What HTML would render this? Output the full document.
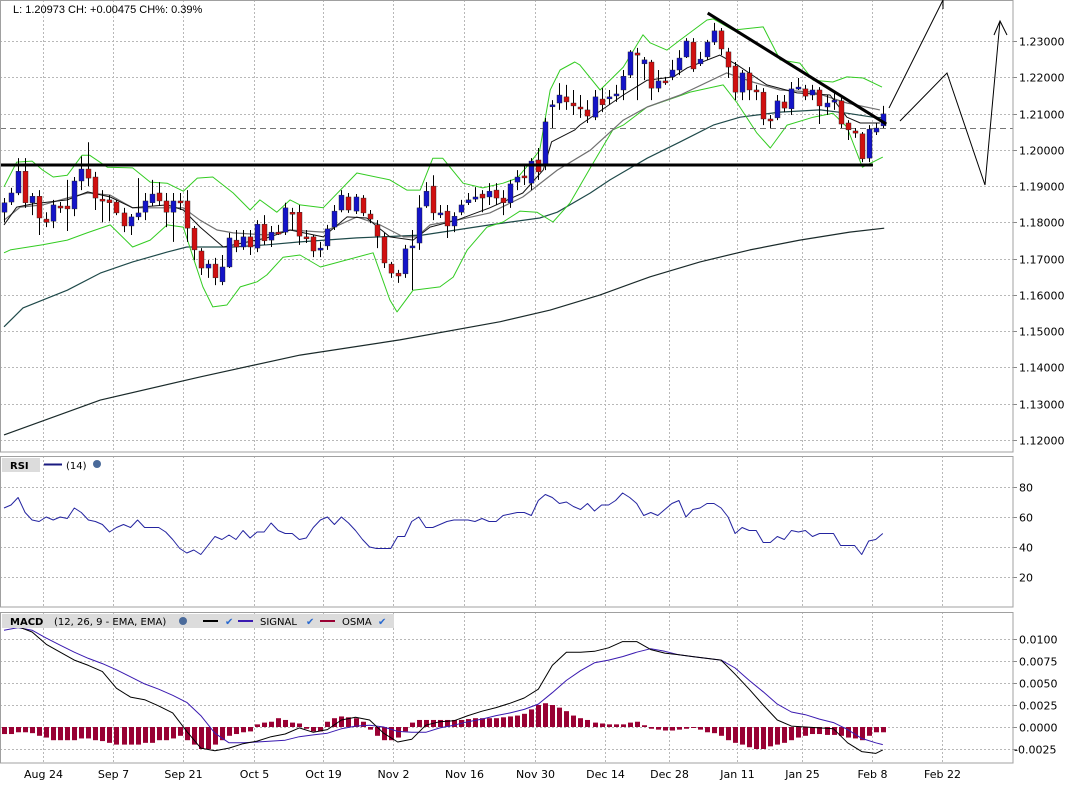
<!DOCTYPE html>
<html><head><meta charset="utf-8"><title>EUR/USD daily chart</title>
<style>
html,body{margin:0;padding:0;background:#fff;}
svg{display:block;font-family:"DejaVu Sans","Liberation Sans",sans-serif;}
</style></head>
<body>
<svg id="chart" width="1073" height="788" viewBox="0 0 1073 788" xmlns="http://www.w3.org/2000/svg">
<rect x="0" y="0" width="1073" height="788" fill="#fff"/>
<g id="grid"></g>
<g id="main"></g>
<g id="rsi"></g>
<g id="macd"></g>
<g id="axes"></g>
<rect x="0.5" y="0.5" width="1012.5" height="451.5" fill="none" stroke="#a0a0a0"/>
<rect x="0.5" y="456.5" width="1012.5" height="150.5" fill="none" stroke="#a0a0a0"/>
<rect x="0.5" y="612.5" width="1012.5" height="150.5" fill="none" stroke="#a0a0a0"/>
<text x="13" y="13" font-family="Liberation Sans, sans-serif" font-size="11" fill="#000">L: 1.20973 CH: +0.00475 CH%: 0.39%</text>
<g>
<rect x="2" y="458" width="38" height="14" fill="#dcdcdc"/>
<text x="10" y="469" font-size="10" font-weight="bold">RSI</text>
<line x1="44" y1="464.5" x2="62" y2="464.5" stroke="#1a1a80" stroke-width="2"/>
<text x="66" y="469" font-size="10">(14)</text>
<circle cx="97" cy="464" r="4" fill="#4a6a9a"/>
</g>
<g>
<rect x="2" y="614" width="392" height="14" fill="#dcdcdc"/>
<text x="10" y="625" font-size="10" font-weight="bold">MACD</text>
<text x="54" y="625" font-size="10">(12, 26, 9 - EMA, EMA)</text>
<circle cx="183" cy="621" r="4" fill="#4a6a9a"/>
<line x1="203" y1="621" x2="218" y2="621" stroke="#000" stroke-width="2"/>
<text x="225" y="625" font-size="10" fill="#2a6ad0">✔</text>
<line x1="238" y1="621" x2="253" y2="621" stroke="#3a1ab0" stroke-width="2"/>
<text x="260" y="625" font-size="10">SIGNAL</text>
<text x="306" y="625" font-size="10" fill="#2a6ad0">✔</text>
<line x1="320" y1="621" x2="335" y2="621" stroke="#990033" stroke-width="2"/>
<text x="342" y="625" font-size="10">OSMA</text>
<text x="378" y="625" font-size="10" fill="#2a6ad0">✔</text>
</g>
<g stroke="#000" fill="none" stroke-width="1">
<line x1="889" y1="108" x2="943" y2="0"/>
<line x1="943" y1="0" x2="943" y2="9"/>
<polyline points="900,121 947,73 985,185 1000,21"/>
<polyline points="994,35 1000,21 1007,35"/>
</g>
<script>
// ---------- DATA ----------
const open = [1.1828,1.1856,1.1881,1.1941,1.1854,1.1872,1.1809,1.1803,1.1845,1.1845,1.1837,1.1914,1.1947,1.1925,1.1864,1.1862,1.1856,1.1826,1.1790,1.1815,1.1828,1.1854,1.1881,1.1859,1.1828,1.1859,1.1859,1.1784,1.1721,1.1674,1.1685,1.1636,1.1677,1.1751,1.1732,1.1760,1.1729,1.1795,1.1751,1.1773,1.1773,1.1828,1.1828,1.1760,1.1760,1.1724,1.1735,1.1787,1.1834,1.1870,1.1831,1.1867,1.1823,1.1793,1.1760,1.1685,1.1660,1.1658,1.1732,1.1743,1.1845,1.1900,1.1823,1.1831,1.1790,1.1828,1.1854,1.1864,1.1878,1.1870,1.1889,1.1867,1.1854,1.1911,1.1928,1.1908,1.1972,1.1955,1.2121,1.2129,1.2146,1.2129,1.2118,1.2110,1.2090,1.2140,1.2143,1.2151,1.2165,1.2206,1.2267,1.2237,1.2242,1.2170,1.2190,1.2201,1.2220,1.2256,1.2297,1.2237,1.2256,1.2297,1.2328,1.2270,1.2231,1.2159,1.2212,1.2165,1.2159,1.2085,1.2088,1.2132,1.2113,1.2170,1.2168,1.2151,1.2165,1.2118,1.2135,1.2135,1.2074,1.2052,1.2044,1.1977,1.2049,1.2066];
const high = [1.1867,1.1895,1.1977,1.1977,1.1881,1.1889,1.1828,1.1862,1.1856,1.1917,1.1925,1.1982,1.2021,1.1939,1.1889,1.1875,1.1862,1.1840,1.1823,1.1922,1.1881,1.1917,1.1911,1.1881,1.1881,1.1881,1.1889,1.1790,1.1729,1.1696,1.1702,1.1710,1.1771,1.1779,1.1779,1.1779,1.1806,1.1820,1.1790,1.1793,1.1854,1.1840,1.1848,1.1779,1.1765,1.1746,1.1793,1.1848,1.1889,1.1881,1.1878,1.1875,1.1834,1.1806,1.1771,1.1691,1.1669,1.1738,1.1779,1.1875,1.1911,1.1930,1.1848,1.1848,1.1828,1.1862,1.1881,1.1897,1.1889,1.1908,1.1908,1.1889,1.1917,1.1944,1.1958,1.1977,1.2005,1.2088,1.2137,1.2184,1.2179,1.2165,1.2151,1.2137,1.2165,1.2170,1.2165,1.2179,1.2220,1.2275,1.2281,1.2256,1.2248,1.2220,1.2201,1.2248,1.2275,1.2308,1.2308,1.2270,1.2303,1.2350,1.2336,1.2281,1.2242,1.2220,1.2228,1.2179,1.2170,1.2096,1.2151,1.2151,1.2187,1.2198,1.2179,1.2179,1.2173,1.2151,1.2159,1.2143,1.2082,1.2060,1.2049,1.2068,1.2074,1.2121];
const low = [1.1800,1.1848,1.1875,1.1840,1.1820,1.1765,1.1787,1.1784,1.1826,1.1776,1.1817,1.1889,1.1900,1.1834,1.1800,1.1803,1.1820,1.1773,1.1765,1.1806,1.1806,1.1845,1.1845,1.1787,1.1746,1.1834,1.1746,1.1696,1.1655,1.1647,1.1627,1.1627,1.1674,1.1718,1.1724,1.1710,1.1718,1.1738,1.1732,1.1765,1.1765,1.1779,1.1738,1.1743,1.1704,1.1704,1.1724,1.1779,1.1828,1.1826,1.1823,1.1817,1.1798,1.1729,1.1674,1.1647,1.1633,1.1647,1.1613,1.1724,1.1840,1.1806,1.1812,1.1757,1.1773,1.1820,1.1848,1.1856,1.1828,1.1848,1.1848,1.1820,1.1840,1.1889,1.1903,1.1889,1.1917,1.1944,1.2060,1.2110,1.2110,1.2096,1.2088,1.2074,1.2082,1.2104,1.2124,1.2132,1.2137,1.2198,1.2137,1.2192,1.2137,1.2159,1.2179,1.2192,1.2206,1.2253,1.2215,1.2231,1.2248,1.2289,1.2261,1.2198,1.2137,1.2137,1.2137,1.2137,1.2068,1.2060,1.2082,1.2104,1.2096,1.2165,1.2137,1.2137,1.2071,1.2096,1.2110,1.2060,1.2027,1.2033,1.1966,1.1966,1.2041,1.2060];
const close = [1.1854,1.1881,1.1941,1.1854,1.1872,1.1812,1.1800,1.1848,1.1843,1.1837,1.1914,1.1947,1.1922,1.1867,1.1862,1.1854,1.1826,1.1790,1.1815,1.1826,1.1859,1.1878,1.1859,1.1828,1.1859,1.1854,1.1784,1.1724,1.1674,1.1685,1.1647,1.1677,1.1757,1.1732,1.1760,1.1732,1.1795,1.1749,1.1773,1.1771,1.1840,1.1826,1.1762,1.1757,1.1721,1.1729,1.1782,1.1831,1.1875,1.1834,1.1870,1.1826,1.1809,1.1762,1.1688,1.1660,1.1652,1.1727,1.1735,1.1840,1.1886,1.1826,1.1826,1.1790,1.1817,1.1848,1.1862,1.1870,1.1867,1.1886,1.1867,1.1854,1.1906,1.1925,1.1925,1.1969,1.1939,1.2077,1.2124,1.2151,1.2132,1.2121,1.2113,1.2093,1.2146,1.2124,1.2146,1.2154,1.2203,1.2270,1.2261,1.2248,1.2170,1.2190,1.2187,1.2220,1.2253,1.2300,1.2223,1.2250,1.2297,1.2328,1.2278,1.2228,1.2159,1.2212,1.2165,1.2162,1.2085,1.2082,1.2135,1.2115,1.2168,1.2173,1.2148,1.2165,1.2121,1.2129,1.2137,1.2071,1.2055,1.2046,1.1975,1.2057,1.2060,1.2099];

const upperDay = [0,1.8,4.0,5.5,7.0,9.0,11.1,12.2,14.7,18.3,20.8,23.2,25.5,27.5,29.7,32.6,35.0,36.4,38.8,40.7,42.1,45.4,50.2,54.9,57.3,59.2,61.0,62.4,65.3,68.1,71.0,73.0,74.8,76.2,77.7,79.1,81.2,81.9,84.8,88.1,90.9,91.9,94.3,96.2,100.0,100.9,103.7,108.0,110.4,113.2,115.1,117.9,119.9,122.2,124.9];
const upperBand = [1.1898,1.1966,1.1969,1.1944,1.1925,1.1930,1.1985,1.1985,1.1952,1.1950,1.1911,1.1908,1.1886,1.1922,1.1925,1.1881,1.1834,1.1862,1.1828,1.1862,1.1848,1.1840,1.1936,1.1917,1.1889,1.1889,1.1977,1.1977,1.1908,1.1895,1.1908,1.1922,1.1963,1.1999,1.2165,1.2220,1.2242,1.2234,1.2165,1.2228,1.2317,1.2295,1.2275,1.2303,1.2358,1.2361,1.2330,1.2339,1.2248,1.2239,1.2192,1.2187,1.2201,1.2198,1.2173];
const lowerDay = [0,0.9,5.5,9.0,11.8,15.1,18.3,20.8,23.2,25.5,26.9,28.3,29.7,31.7,33.6,36.0,37.4,39.7,42.1,45.0,52.5,54.9,55.9,58.2,62.0,63.9,65.9,68.7,71.0,73.4,75.8,78.1,80.5,83.4,86.6,88.1,91.5,95.7,97.6,102.3,104.3,107.1,109.0,111.4,115.1,117.9,119.9,122.1,123.6,125.0];
const lowerBand = [1.1716,1.1724,1.1738,1.1751,1.1771,1.1793,1.1732,1.1751,1.1793,1.1787,1.1704,1.1622,1.1567,1.1572,1.1622,1.1636,1.1655,1.1704,1.1710,1.1677,1.1716,1.1586,1.1553,1.1613,1.1622,1.1649,1.1724,1.1787,1.1801,1.1831,1.1828,1.1801,1.1853,1.1950,1.2055,1.2068,1.2118,1.2146,1.2159,1.2179,1.2129,1.2046,1.2005,1.2068,1.2090,1.2101,1.2063,1.1952,1.1966,1.1980];
const midDay = [0,2.3,5.5,9.0,11.9,15.1,18.3,25.5,27.9,30.3,32.6,37.4,40.7,45.4,50.2,53.5,56.8,58.7,60.6,64.4,69.1,73.8,78.7,83.4,88.1,91.5,96.2,102.8,106.5,110.4,115.1,119.9,124.6];
const midBand = [1.1806,1.1842,1.1848,1.1867,1.1881,1.1875,1.1840,1.1840,1.1806,1.1779,1.1771,1.1765,1.1779,1.1773,1.1815,1.1793,1.1760,1.1760,1.1793,1.1806,1.1826,1.1870,1.1944,1.1999,1.2082,1.2118,1.2151,1.2212,1.2187,1.2165,1.2159,1.2129,1.2110];
const fastDay = [0,1.8,4.1,9.0,11.9,15.1,18.3,23.2,25.5,27.9,31.2,37.4,40.7,45.4,48.8,51.6,54.9,58.2,60.6,64.4,69.1,73.8,76.7,77.9,81.2,81.9,88.1,91.5,95.2,97.2,101.8,104.3,108.5,112.8,117.5,119.9,121.8,124.6];
const fastMA = [1.1793,1.1842,1.1851,1.1862,1.1884,1.1870,1.1840,1.1848,1.1834,1.1787,1.1732,1.1757,1.1779,1.1760,1.1815,1.1812,1.1760,1.1751,1.1787,1.1806,1.1840,1.1881,1.1944,1.2022,1.2055,1.2068,1.2151,1.2192,1.2201,1.2226,1.2261,1.2234,1.2179,1.2157,1.2151,1.2090,1.2074,1.2074];
const ma50Day = [0,2.7,9.0,13.7,18.3,23.2,26.0,32.6,37.4,42.1,50.2,59.6,69.1,76.2,78.7,83.4,86.2,91.5,96.2,100.9,104.7,110.4,116.1,119.9,123.6,125.2];
const ma50 = [1.1512,1.1564,1.1613,1.1660,1.1691,1.1718,1.1732,1.1732,1.1738,1.1746,1.1757,1.1765,1.1793,1.1812,1.1828,1.1881,1.1917,1.1977,1.2022,1.2068,1.2090,1.2104,1.2110,1.2101,1.2090,1.2088];
const ma200Day = [0,13.7,27.9,42.1,56.3,70.6,77.7,84.8,91.9,99.0,106.1,113.2,120.3,125.2];
const ma200 = [1.1214,1.1310,1.1374,1.1434,1.1476,1.1526,1.1558,1.1600,1.1650,1.1691,1.1724,1.1751,1.1773,1.1784];
const supportLevel = 1.1958;
const trendDays = [100.1,125.5];
const trendPrices = [1.2377,1.2071];
const lastLinePrice = 1.2060;

const rsiValues = [66,68,73,63,58,57,60,58,60,59,66,63,58,57,55,50,53,55,53,58,53,53,53,50,45,39,36,38,35,41,47,45,48,45,51,46,50,50,56,51,49,49,45,46,53,58,60,55,60,56,51,45,40,39,39,39,47,47,57,60,53,53,55,57,58,58,58,57,59,57,57,61,62,63,63,61,71,75,73,69,70,67,65,69,64,68,68,71,76,73,69,61,63,61,65,69,71,60,65,66,69,69,66,60,49,53,51,51,43,43,47,45,51,50,51,47,49,49,49,41,41,41,35,44,45,49];

// MACD values in units of 1e-3
const macdE3 = [11.7,11.4,10.8,9.4,8.5,7.6,7.0,6.3,4.4,3.4,3.1,2.4,1.6,-0.5,-2.4,-2.7,-2.4,-1.9,-1.6,-1.1,-0.8,-0.1,-0.6,-0.3,0.8,1.1,0.8,-0.7,-1.7,-1.4,0.2,0.6,0.7,1.3,1.8,2.2,2.7,3.3,4.3,7.0,8.5,8.5,8.6,9.0,9.7,9.7,8.8,8.4,8.2,8.0,7.8,7.6,6.0,4.3,2.5,0.8,0.1,0,-0.1,-0.2,-1.8,-2.8,-3.0,-2.6];
const signalE3 = [11.0,11.3,11.0,10.1,9.3,8.5,7.8,7.2,6.5,5.7,4.9,4.3,3.6,2.8,1.3,-0.7,-1.8,-1.8,-1.7,-1.6,-1.5,-1.1,-0.9,-0.7,-0.2,0.1,0.2,0,-0.5,-0.6,-0.6,-0.1,0.2,0.6,0.9,1.3,1.6,2.0,2.6,3.9,5.3,6.4,7.3,7.6,8.0,8.5,8.9,8.6,8.2,8.0,7.8,7.6,6.7,5.3,4.0,2.6,1.7,1.4,0.9,0.5,-0.3,-1.3,-1.8,-2.0];
const osmaE3 = [-0.8,-0.8,-0.6,-0.6,-0.7,-1.0,-1.2,-1.5,-1.5,-1.5,-1.5,-1.3,-1.3,-1.5,-1.6,-1.8,-2.0,-2.0,-2.0,-2.0,-1.8,-1.8,-1.5,-1.5,-1.3,-1.0,-1.5,-2.0,-2.5,-2.5,-2.0,-1.5,-1.0,-0.8,-0.6,-0.5,0.3,0.5,0.6,1.0,0.8,0.5,0.4,-0.2,-0.5,-0.5,0.6,1.0,1.2,1.1,1.0,0.6,-0.3,-1.0,-1.5,-1.5,-1.2,-0.5,0.5,0.8,0.8,0.8,0.8,0.8,0.8,0.8,0.9,1.0,1.0,1.0,1.0,1.1,1.2,1.3,1.5,2.0,2.5,2.7,2.5,2.2,1.8,1.3,1.0,0.8,0.5,0.4,0.3,0.3,0.3,0.5,0.6,0.2,-0.2,-0.3,-0.4,-0.4,-0.3,-0.2,-0.1,-0.3,-0.6,-0.7,-1.0,-1.5,-1.8,-2.0,-2.3,-2.5,-2.5,-2.2,-2.0,-1.8,-1.5,-1.2,-1.0,-0.8,-0.8,-0.9,-0.9,-1.0,-1.2,-1.3,-1.5,-1.0,-0.6,-0.6];
const macdDay = [0,2,4,6,8,10,12,14,16,18,20,22,24,26,28,30,32,34,36,38,40,42,44,46,48,50,52,54,56,58,60,62,64,66,68,70,72,74,76,78,80,82,84,86,88,90,92,94,96,98,100,102,104,106,108,110,112,114,116,118,120,122,124,125];

const dateLabels = ["Aug 24","Sep 7","Sep 21","Oct 5","Oct 19","Nov 2","Nov 16","Nov 30","Dec 14","Dec 28","Jan 11","Jan 25","Feb 8","Feb 22"];
const dateDays = [5.5,15.5,25.5,35.5,45.4,55.4,65.4,75.6,85.5,94.6,104.3,113.5,123.5,133.4];
const priceTicks = [1.23,1.22,1.21,1.20,1.19,1.18,1.17,1.16,1.15,1.14,1.13,1.12];
const rsiTicks = [80,60,40,20];
const macdTicks = [0.0100,0.0075,0.0050,0.0025,0,-0.0025];

// ---------- SCALES ----------
const xD = d => 4 + d * 7.03;
const yP = p => 41 + (1.23 - p) * 3627;
const yR = v => 487 + (80 - v) * 1.5;
const yM = v => 727 - v * 8800;
const yME3 = v => yM(v * 1e-3);

const NS = "http://www.w3.org/2000/svg";
function mk(parent, tag, attrs){
  const e = document.createElementNS(NS, tag);
  for (const k in attrs) e.setAttribute(k, attrs[k]);
  parent.appendChild(e);
  return e;
}
const G = document.getElementById('grid');
const M = document.getElementById('main');
const R = document.getElementById('rsi');
const C = document.getElementById('macd');
const A = document.getElementById('axes');

priceTicks.forEach(t => {
  const y = Math.round(yP(t)) + 0.5;
  const l = mk(G, 'line', {x1:0, x2:1013, y1:y, y2:y, stroke:'#b8b8b8', 'stroke-dasharray':'2,2'});
  
  
  const tk = mk(A, 'line', {x1:1013, x2:1017, y1:y, y2:y, stroke:'#888'});
  
  
  const tx = mk(A, 'text', {x:1019, y:y+4, 'font-size':11, fill:'#000'});
  tx.textContent = t.toFixed(5);
  
  
});
rsiTicks.forEach(t => {
  const y = Math.round(yR(t)) + 0.5;
  const l = mk(G, 'line', {x1:0, x2:1013, y1:y, y2:y, stroke:'#b8b8b8', 'stroke-dasharray':'2,2'});
  
  
  const tk = mk(A, 'line', {x1:1013, x2:1017, y1:y, y2:y, stroke:'#888'});
  
  
  const tx = mk(A, 'text', {x:1019, y:y+4, 'font-size':11, fill:'#000'});
  tx.textContent = String(t);
  
  
});
macdTicks.forEach(t => {
  const y = Math.round(yM(t)) + 0.5;
  const l = mk(G, 'line', {x1:0, x2:1013, y1:y, y2:y, stroke:'#b8b8b8', 'stroke-dasharray':'2,2'});
  
  
  const tk = mk(A, 'line', {x1:1013, x2:1017, y1:y, y2:y, stroke:'#888'});
  
  
  const tx = mk(A, 'text', {x: t < 0 ? 1014 : 1019, y:y+4, 'font-size':11, fill:'#000'});
  tx.textContent = t.toFixed(4);
  
  
});
dateDays.forEach((d, i) => {
  const x = Math.round(xD(d)) + 0.5;
  [[0,452],[456,607],[612,763]].forEach(([a,b]) => {
    const l = mk(G, 'line', {x1:x, x2:x, y1:a, y2:b, stroke:'#b8b8b8', 'stroke-dasharray':'2,2'});
    
    
  });
  const tx = mk(A, 'text', {x:x, y:778, 'font-size':11, 'text-anchor':'middle', fill:'#000'});
  tx.textContent = dateLabels[i];
  
  
});

function poly(parent, days, vals, yf, color, w){
  const pts = days.map((d,i) => xD(d).toFixed(1) + ',' + yf(vals[i]).toFixed(1)).join(' ');
  return mk(parent, 'polyline', {points:pts, fill:'none', stroke:color, 'stroke-width':w, 'stroke-linejoin':'round'});
}

const l200 = poly(M, ma200Day, ma200, yP, '#1a2a2a', 1.2);


const l50 = poly(M, ma50Day, ma50, yP, '#1f4a4a', 1.2);


const lu = poly(M, upperDay, upperBand, yP, '#33cc22', 1);


const ll = poly(M, lowerDay, lowerBand, yP, '#33cc22', 1);


const lm = poly(M, midDay, midBand, yP, '#707070', 1.2);


const lf = poly(M, fastDay, fastMA, yP, '#111', 1);



const dash = mk(M, 'line', {x1:0, x2:1013, y1:Math.round(yP(lastLinePrice))+0.5, y2:Math.round(yP(lastLinePrice))+0.5, stroke:'#777', 'stroke-dasharray':'6,4'});



open.forEach((o, i) => {
  const c = close[i], x = Math.round(xD(i));
  const up = c >= o;
  const wick = mk(M, 'line', {x1:x+0.5, x2:x+0.5, y1:yP(high[i]), y2:yP(low[i]), stroke:'#000', 'stroke-width':1});
  
  
  const top = yP(Math.max(o,c)), bot = yP(Math.min(o,c));
  const body = mk(M, 'rect', {x:x-2, y:top, width:5, height:Math.max(2, bot-top), fill: up ? '#1414c8' : '#d01010', stroke:'#222', 'stroke-width':0.4});
  
  
});

const sup = mk(M, 'line', {x1:0, x2:873, y1:yP(supportLevel), y2:yP(supportLevel), stroke:'#000', 'stroke-width':3});


const tr = mk(M, 'line', {x1:xD(trendDays[0]), y1:yP(trendPrices[0]), x2:xD(trendDays[1]), y2:yP(trendPrices[1]), stroke:'#000', 'stroke-width':3});



const rsiLine = poly(R, rsiValues.map((v,i)=>i), rsiValues, yR, '#2424a0', 1);



osmaE3.forEach((v, i) => {
  const x = Math.round(xD(i));
  const y0 = yM(0), y1 = yME3(v);
  const b = mk(C, 'rect', {x:x-2, y:Math.min(y0,y1), width:5, height:Math.max(1, Math.abs(y1-y0)), fill:'#990033'});
  
  
});
const sig = poly(C, macdDay, signalE3, yME3, '#3a1ab0', 1);


const mac = poly(C, macdDay, macdE3, yME3, '#000', 1);


</script>
</svg>
</body></html>
